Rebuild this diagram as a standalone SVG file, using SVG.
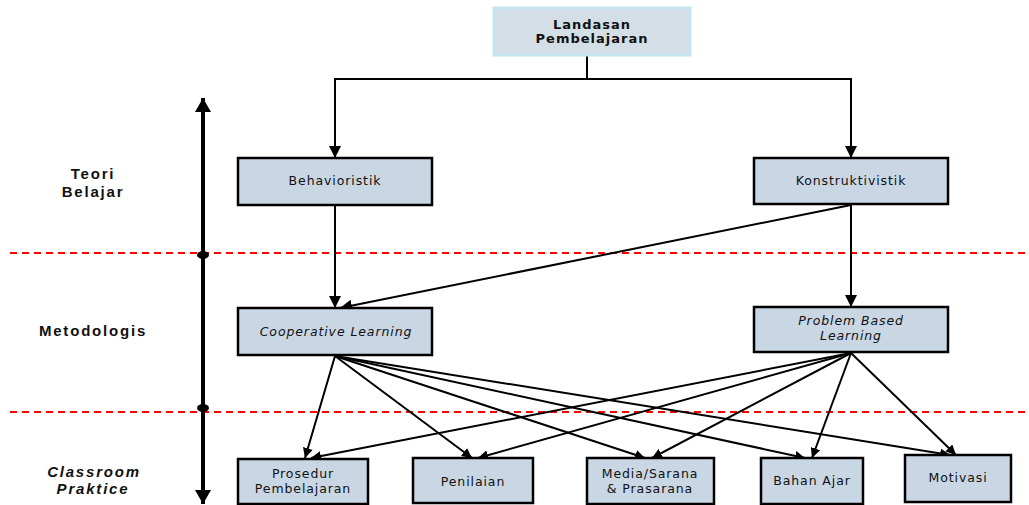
<svg xmlns="http://www.w3.org/2000/svg" width="1029" height="505" viewBox="0 0 1029 505">
<style>
.box{fill:#c9d6e4;stroke:#000;stroke-width:2.5}
.top{fill:#d3dee7;stroke:#c3e4ee;stroke-width:3}
.lbl{font-family:"DejaVu Sans",Verdana,sans-serif;font-size:12.5px;letter-spacing:0.9px;fill:#111;text-anchor:middle}
.it{font-style:italic}
.side{font-family:"Liberation Sans",Arial,sans-serif;font-size:15px;font-weight:bold;letter-spacing:1.8px;fill:#111;text-anchor:middle}
.con{stroke:#000;stroke-width:2;fill:none}
.dash{stroke:#f00;stroke-width:2;stroke-dasharray:7,5}
</style>
<defs>
<marker id="ah" viewBox="0 0 10 10" refX="10" refY="5" markerWidth="12" markerHeight="12" markerUnits="userSpaceOnUse" orient="auto"><path d="M0,0 L10,5 L0,10 z" fill="#000"/></marker>
<marker id="ahs" viewBox="0 0 10 10" refX="10" refY="5" markerWidth="10" markerHeight="10" markerUnits="userSpaceOnUse" orient="auto"><path d="M0,0 L10,5 L0,10 z" fill="#000"/></marker>
<marker id="axh" viewBox="0 0 10 10" refX="10" refY="5" markerWidth="14" markerHeight="16" markerUnits="userSpaceOnUse" orient="auto-start-reverse" preserveAspectRatio="none"><path d="M0,0 L10,5 L0,10 z" fill="#000"/></marker>
</defs>

<g id="dividers">
<line class="dash" x1="10" y1="253" x2="1029" y2="253"/>
<line class="dash" x1="10" y1="412" x2="1029" y2="412"/>
</g>

<g id="axis">
<line x1="203" y1="98" x2="203" y2="504" stroke="#000" stroke-width="4" marker-start="url(#axh)" marker-end="url(#axh)"/>
<ellipse cx="203" cy="255" rx="6" ry="4" fill="#000"/>
<ellipse cx="203" cy="408" rx="6" ry="4" fill="#000"/>
</g>

<g id="side-labels">
<text class="side" x="93" y="179">Teori</text>
<text class="side" x="93" y="197">Belajar</text>
<text class="side" x="93" y="336">Metodologis</text>
<text class="side it" x="94" y="477">Classroom</text>
<text class="side it" x="93" y="494">Praktice</text>
</g>

<g id="connectors">
<path class="con" d="M587,55 V79 H335 V158" marker-end="url(#ah)"/>
<path class="con" d="M587,79 H851 V158" marker-end="url(#ah)"/>
<line class="con" x1="335" y1="205" x2="335" y2="308" marker-end="url(#ah)"/>
<line class="con" x1="851" y1="205" x2="340" y2="308" marker-end="url(#ah)"/>
<line class="con" x1="851" y1="205" x2="851" y2="307" marker-end="url(#ah)"/>
<line class="con" x1="335" y1="356" x2="305" y2="458" marker-end="url(#ahs)"/>
<line class="con" x1="335" y1="356" x2="472" y2="458" marker-end="url(#ahs)"/>
<line class="con" x1="335" y1="356" x2="645" y2="458" marker-end="url(#ahs)"/>
<line class="con" x1="335" y1="356" x2="805" y2="458" marker-end="url(#ahs)"/>
<line class="con" x1="335" y1="356" x2="950" y2="455" marker-end="url(#ahs)"/>
<line class="con" x1="851" y1="353" x2="311" y2="458" marker-end="url(#ahs)"/>
<line class="con" x1="851" y1="353" x2="478" y2="458" marker-end="url(#ahs)"/>
<line class="con" x1="851" y1="353" x2="652" y2="458" marker-end="url(#ahs)"/>
<line class="con" x1="851" y1="353" x2="812" y2="458" marker-end="url(#ahs)"/>
<line class="con" x1="851" y1="353" x2="956" y2="455" marker-end="url(#ahs)"/>
</g>

<g id="landasan">
<rect class="top" x="494" y="8" width="196" height="47"/>
<text class="lbl" x="592" y="29" style="font-weight:bold;font-size:13px;letter-spacing:1px">Landasan</text>
<text class="lbl" x="592" y="43" style="font-weight:bold;font-size:13px;letter-spacing:1px">Pembelajaran</text>
</g>
<g id="behavioristik">
<rect class="box" x="238" y="158" width="194" height="47"/>
<text class="lbl" x="335" y="185">Behavioristik</text>
</g>
<g id="konstruktivistik">
<rect class="box" x="754" y="158" width="194" height="46"/>
<text class="lbl" x="851" y="185">Konstruktivistik</text>
</g>
<g id="cooperative">
<rect class="box" x="238" y="308" width="194" height="47"/>
<text class="lbl it" x="336" y="336">Cooperative Learning</text>
</g>
<g id="pbl">
<rect class="box" x="754" y="307" width="194" height="45"/>
<text class="lbl it" x="851" y="325">Problem Based</text>
<text class="lbl it" x="851" y="340">Learning</text>
</g>
<g id="prosedur">
<rect class="box" x="238" y="459" width="130" height="45"/>
<text class="lbl" x="303" y="478">Prosedur</text>
<text class="lbl" x="303" y="493">Pembelajaran</text>
</g>
<g id="penilaian">
<rect class="box" x="413" y="458" width="120" height="45"/>
<text class="lbl" x="473" y="486">Penilaian</text>
</g>
<g id="media">
<rect class="box" x="587" y="458" width="127" height="46"/>
<text class="lbl" x="650" y="478">Media/Sarana</text>
<text class="lbl" x="650" y="493">&amp; Prasarana</text>
</g>
<g id="bahan-ajar">
<rect class="box" x="761" y="458" width="102" height="46"/>
<text class="lbl" x="812" y="485">Bahan Ajar</text>
</g>
<g id="motivasi">
<rect class="box" x="905" y="455" width="106" height="47"/>
<text class="lbl" x="958" y="482">Motivasi</text>
</g>
</svg>
